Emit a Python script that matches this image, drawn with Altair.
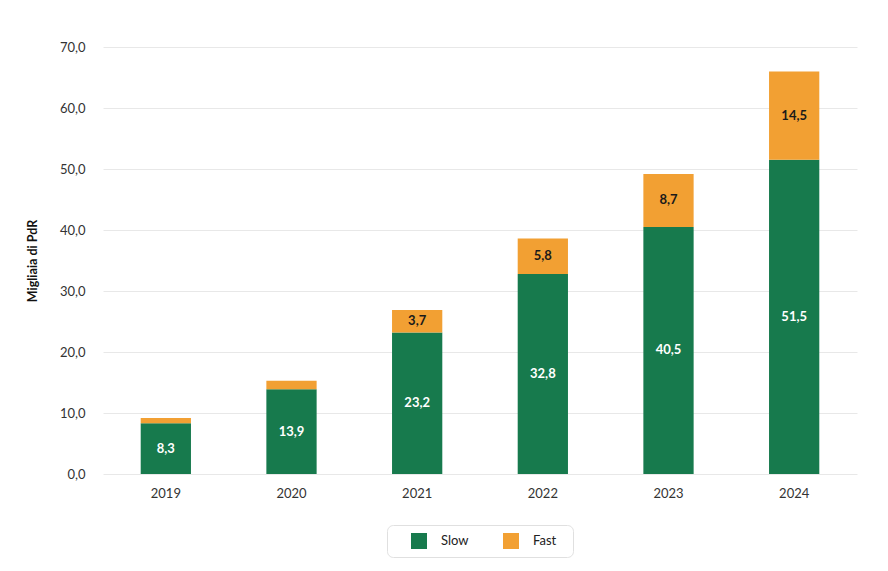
import altair as alt
import pandas as pd

years = ["2019", "2020", "2021", "2022", "2023", "2024"]
slow = [8.3, 13.9, 23.2, 32.8, 40.5, 51.5]
fast = [0.9, 1.4, 3.7, 5.8, 8.7, 14.5]
series = ["Slow", "Fast"]
colors = ["#177a4d", "#f2a033"]
label_colors = ["white", "#1a1a1a"]

rows = []
for i, y in enumerate(years):
    rows.append({"Anno": y, "Tipo": "Slow", "ord": 0, "v": slow[i]})
    rows.append({"Anno": y, "Tipo": "Fast", "ord": 1, "v": fast[i]})
df = pd.DataFrame(rows)

FONT = "Lato"

x = alt.X("Anno:N", title=None,
          scale=alt.Scale(paddingInner=0.6, paddingOuter=0.3),
          axis=alt.Axis(labelAngle=0, domain=False, ticks=False, labelPadding=13,
                        labelFontSize=13, labelColor="#333333", labelFont=FONT))

bars = alt.Chart(df).mark_bar().encode(
    x=x,
    y=alt.Y("v:Q", stack="zero",
            scale=alt.Scale(domain=[0, 70]),
            title="Migliaia di PdR",
            axis=alt.Axis(values=[0, 10, 20, 30, 40, 50, 60, 70],
                          labelExpr="replace(format(datum.value, '.1f'), '.', ',')",
                          domain=False, ticks=False, labelPadding=18,
                          labelFontSize=13, labelColor="#333333", labelFont=FONT,
                          gridColor="#e8e8e8", titleFont=FONT, titleFontSize=12.5,
                          titleFontWeight="bold", titleColor="#111111",
                          titlePadding=20)),
    color=alt.Color("Tipo:N", scale=alt.Scale(domain=series, range=colors),
                    legend=alt.Legend(title=None, orient="none", direction="horizontal",
                                      legendX=284, legendY=478,
                                      symbolType="square", symbolSize=256,
                                      symbolStrokeWidth=0, symbolOffset=16,
                                      labelFont=FONT, labelFontSize=13,
                                      labelColor="#222222", labelOffset=14,
                                      labelExpr="datum.label == 'Fast' ? datum.label + '\u2002\u2009\u200b' : datum.label",
                                      columnPadding=18, padding=8,
                                      fillColor="white", strokeColor="#e0e0e0",
                                      cornerRadius=6)),
    order=alt.Order("ord:Q"),
)

labels = alt.Chart(df).transform_stack(
    stack="v", groupby=["Anno"], as_=["y0", "y1"], sort=[alt.SortField("ord")]
).transform_calculate(
    mid="(datum.y0 + datum.y1) / 2",
    lab="replace(format(datum.v, '.1f'), '.', ',')"
).transform_filter("datum.v >= 3").mark_text(
    font=FONT, fontSize=13, fontWeight="bold", baseline="middle"
).encode(
    x=alt.X("Anno:N"),
    y=alt.Y("mid:Q"),
    text="lab:N",
    color=alt.Color("Tipo:N", scale=alt.Scale(domain=series, range=label_colors), legend=None),
)

chart = alt.layer(bars, labels).resolve_scale(color="independent").properties(
    width=754, height=427,
    background="white",
    autosize=alt.AutoSizeParams(type="none"),
    padding={"left": 95, "top": 39, "right": 23, "bottom": 89},
).configure_view(stroke=None, strokeWidth=0)

chart.save("out.html", embed_options={"renderer": "svg", "actions": False})
